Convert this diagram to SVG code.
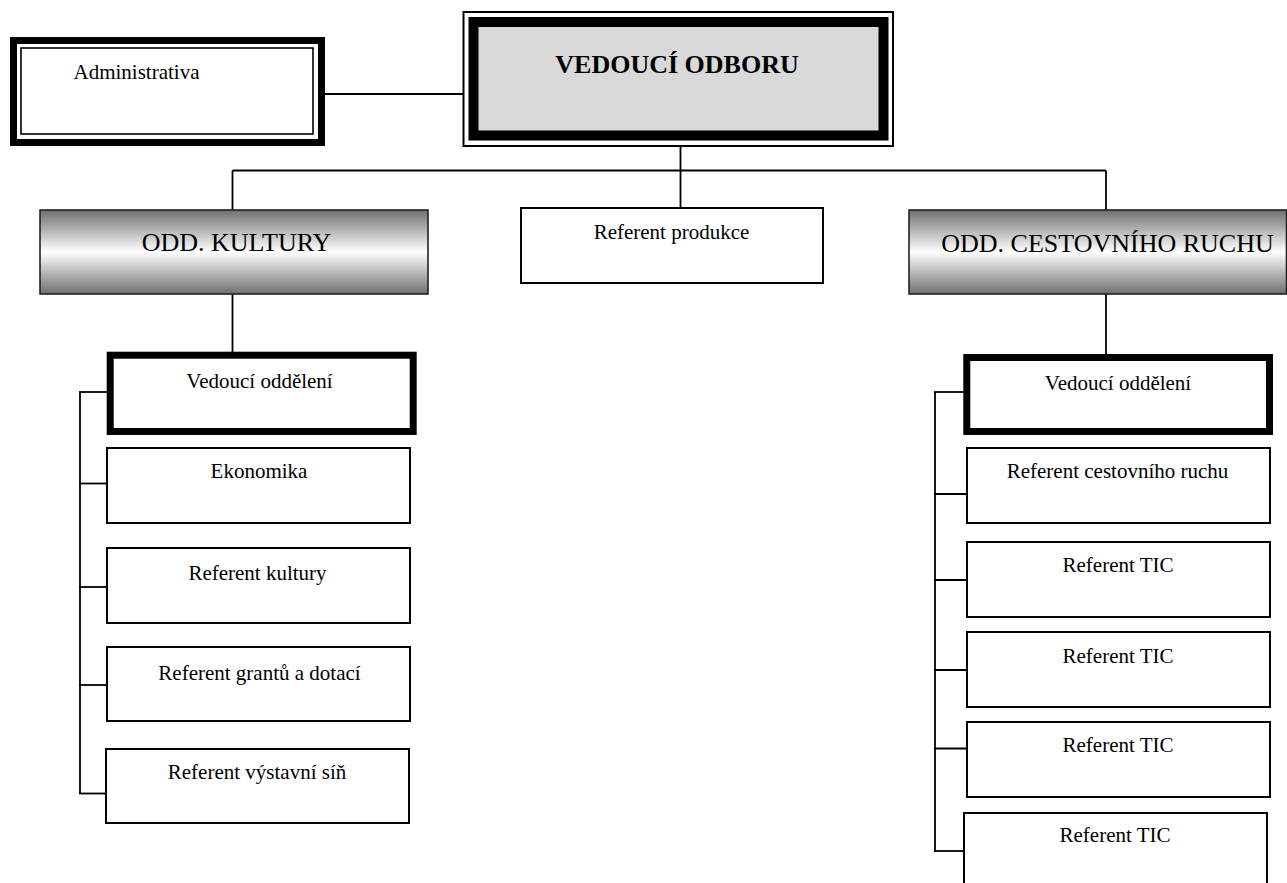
<svg xmlns="http://www.w3.org/2000/svg" width="1287" height="883" viewBox="0 0 1287 883">
<defs>
<linearGradient id="g" x1="0" y1="0" x2="0" y2="1">
<stop offset="0" stop-color="#6f6f6f"/>
<stop offset="0.5" stop-color="#ffffff"/>
<stop offset="1" stop-color="#6f6f6f"/>
</linearGradient>
</defs>
<style>
text{font-family:"Liberation Serif","Times New Roman",serif;fill:#000;text-anchor:middle}
.t{font-size:21px}
.h{font-size:26px}
.b{font-size:26px;font-weight:bold}
.box{fill:#fff;stroke:#000;stroke-width:2}
.thick{fill:#fff;stroke:#000;stroke-width:7}
.grad{fill:url(#g);stroke:#222;stroke-width:1.6}
.c line{stroke:#000;stroke-width:1.8}
</style>
<rect width="1287" height="883" fill="#fff"/>
<g class="c" id="connectors">
<line x1="325" y1="94" x2="464" y2="94"/>
<line x1="680.5" y1="146" x2="680.5" y2="208"/>
<line x1="232.5" y1="170.5" x2="1106" y2="170.5"/>
<line x1="232.5" y1="170.5" x2="232.5" y2="210"/>
<line x1="1106" y1="170.5" x2="1106" y2="210"/>
<line x1="232.5" y1="294" x2="232.5" y2="352"/>
<line x1="1106" y1="294" x2="1106" y2="354"/>
<line x1="80" y1="392" x2="80" y2="794"/>
<line x1="79" y1="392" x2="107" y2="392"/>
<line x1="79" y1="483.5" x2="107" y2="483.5"/>
<line x1="79" y1="587" x2="107" y2="587"/>
<line x1="79" y1="685" x2="107" y2="685"/>
<line x1="79" y1="793.5" x2="106" y2="793.5"/>
<line x1="935" y1="392" x2="935" y2="851.5"/>
<line x1="934" y1="392" x2="964" y2="392"/>
<line x1="934" y1="494" x2="967" y2="494"/>
<line x1="934" y1="580" x2="967" y2="580"/>
<line x1="934" y1="670" x2="967" y2="670"/>
<line x1="934" y1="748.5" x2="967" y2="748.5"/>
<line x1="934" y1="851" x2="964" y2="851"/>
</g>
<g id="administrativa">
<rect x="13.5" y="40.5" width="308" height="102" fill="#fff" stroke="#000" stroke-width="7"/>
<rect x="21" y="48" width="292" height="86" fill="none" stroke="#000" stroke-width="1.6"/>
<text class="t" x="136.5" y="79">Administrativa</text>
</g>
<g id="vedouci-odboru">
<rect x="463.5" y="12" width="429.5" height="134" fill="#fff" stroke="#000" stroke-width="2"/>
<rect x="473.5" y="22" width="410" height="113.5" fill="#d9d9d9" stroke="#000" stroke-width="10"/>
<text class="b" x="677" y="73">VEDOUCÍ ODBORU</text>
</g>
<g id="odd-kultury">
<rect x="40" y="210" width="388" height="84" class="grad"/>
<text class="h" x="236.5" y="251">ODD. KULTURY</text>
</g>
<g id="referent-produkce">
<rect x="521" y="208" width="302" height="75" class="box"/>
<text class="t" x="671.5" y="239">Referent produkce</text>
</g>
<g id="odd-cestovniho-ruchu">
<rect x="909" y="210" width="377.5" height="84" class="grad"/>
<text class="h" x="1107.5" y="252">ODD. CESTOVNÍHO RUCHU</text>
</g>
<g id="vedouci-oddeleni-k">
<rect x="110.2" y="355.2" width="303" height="76.3" class="thick"/>
<text class="t" x="259.5" y="388">Vedoucí oddělení</text>
</g>
<g id="ekonomika">
<rect x="107" y="448" width="303" height="75" class="box"/>
<text class="t" x="259" y="478">Ekonomika</text>
</g>
<g id="referent-kultury">
<rect x="107" y="548" width="303" height="75" class="box"/>
<text class="t" x="257.5" y="580">Referent kultury</text>
</g>
<g id="referent-grantu">
<rect x="107" y="647" width="303" height="74" class="box"/>
<text class="t" x="259.5" y="680">Referent grantů a dotací</text>
</g>
<g id="referent-vystavni">
<rect x="106" y="749" width="303" height="74" class="box"/>
<text class="t" x="257" y="779">Referent výstavní síň</text>
</g>
<g id="vedouci-oddeleni-cr">
<rect x="966.8" y="357.5" width="302.7" height="74" class="thick"/>
<text class="t" x="1118" y="390">Vedoucí oddělení</text>
</g>
<g id="referent-cr">
<rect x="967" y="448" width="303" height="75" class="box"/>
<text class="t" x="1117.5" y="478">Referent cestovního ruchu</text>
</g>
<g id="tic1">
<rect x="967" y="542" width="303" height="75" class="box"/>
<text class="t" x="1118" y="572">Referent TIC</text>
</g>
<g id="tic2">
<rect x="967" y="632" width="303" height="75" class="box"/>
<text class="t" x="1118" y="663">Referent TIC</text>
</g>
<g id="tic3">
<rect x="967" y="722" width="303" height="75" class="box"/>
<text class="t" x="1118" y="752">Referent TIC</text>
</g>
<g id="tic4">
<rect x="964" y="813" width="303" height="80" class="box"/>
<text class="t" x="1115" y="842">Referent TIC</text>
</g>
</svg>
